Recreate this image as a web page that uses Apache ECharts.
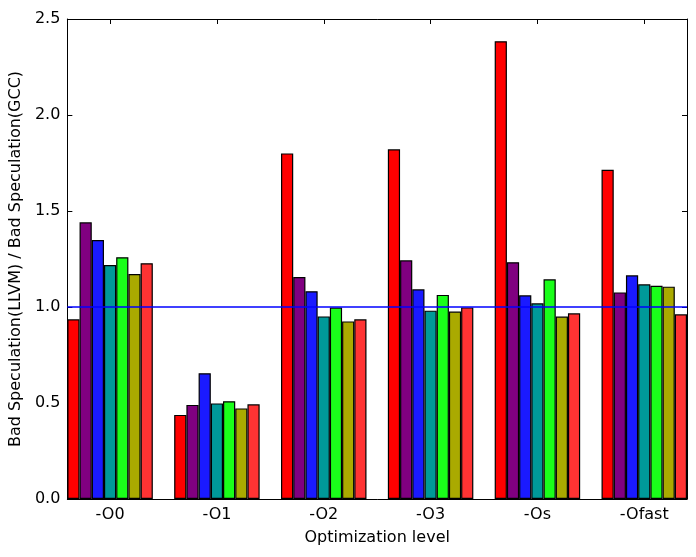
<!DOCTYPE html>
<html>
<head>
<meta charset="utf-8">
<script src="https://cdn.jsdelivr.net/npm/echarts@6/dist/echarts.min.js"></script>
<style>
  html, body { margin: 0; padding: 0; background: #fff; }
  #chart { width: 696px; height: 557px; }
</style>
</head>
<body>
<div id="chart"></div>
<script>
const categories = ["-O0", "-O1", "-O2", "-O3", "-Os", "-Ofast"];
const yTicks = [0, 0.5, 1.0, 1.5, 2.0, 2.5];

// one array per bar within a group
const redValues = [0.936, 0.438, 1.800, 1.821, 2.384, 1.715];
const purpleValues = [1.441, 0.490, 1.156, 1.243, 1.233, 1.076];
const blueValues = [1.349, 0.655, 1.082, 1.092, 1.061, 1.165];
const tealValues = [1.219, 0.498, 0.951, 0.981, 1.019, 1.118];
const greenValues = [1.259, 0.509, 0.997, 1.063, 1.144, 1.111];
const oliveValues = [1.172, 0.472, 0.925, 0.976, 0.950, 1.106];
const lightRedValues = [1.228, 0.493, 0.936, 0.998, 0.967, 0.962];
const baseline = 1.0;

const groups = [
  { values: redValues, color: "#ff0000" },
  { values: purpleValues, color: "#800080" },
  { values: blueValues, color: "#1a1aff" },
  { values: tealValues, color: "#009999" },
  { values: greenValues, color: "#1aff1a" },
  { values: oliveValues, color: "#aaaa00" },
  { values: lightRedValues, color: "#ff3333" },
];

const font = "DejaVu Sans";
const catIdx = categories.map((_, i) => i);
const xMin = -0.4;
const xMax = 5.4;

const chart = echarts.init(document.getElementById("chart"));

const frameX = (pos, showLabels) => ({
  type: "value",
  position: pos,
  min: xMin,
  max: xMax,
  axisLine: { show: true, onZero: false, lineStyle: { color: "#000", width: 1 } },
  axisTick: { show: true, inside: true, length: 5, customValues: catIdx, lineStyle: { color: "#000" } },
  axisLabel: {
    show: showLabels,
    customValues: catIdx,
    formatter: (v) => categories[Math.round(v)],
    color: "#000",
    fontFamily: font,
    fontSize: 16,
    margin: 8,
  },
  splitLine: { show: false },
});

const frameY = (pos, showLabels) => ({
  type: "value",
  position: pos,
  min: yTicks[0],
  max: yTicks[yTicks.length - 1],
  interval: 0.5,
  axisLine: { show: true, onZero: false, lineStyle: { color: "#000", width: 1 } },
  axisTick: { show: true, inside: true, length: 5, lineStyle: { color: "#000" } },
  axisLabel: {
    show: showLabels,
    formatter: (v) => v.toFixed(1),
    color: "#000",
    fontFamily: font,
    fontSize: 16,
    margin: 7,
  },
  splitLine: { show: false },
});

const xBottom = frameX("bottom", true);
xBottom.name = "Optimization level";
xBottom.nameLocation = "middle";
xBottom.nameGap = 31;
xBottom.nameTextStyle = { color: "#000", fontFamily: font, fontSize: 16 };

const yLeft = frameY("left", true);
yLeft.name = "Bad Speculation(LLVM) / Bad Speculation(GCC)";
yLeft.nameLocation = "middle";
yLeft.nameGap = 37;
yLeft.nameTextStyle = { color: "#000", fontFamily: font, fontSize: 16 };

const barSeries = groups.map((g) => ({
  type: "bar",
  xAxisIndex: 0,
  yAxisIndex: 0,
  barWidth: "11.43%",
  barGap: "0%",
  data: g.values.map((v, i) => [i, v]),
  itemStyle: { color: g.color, borderColor: "#000", borderWidth: 1.2 },
}));

// reference line at ratio 1.0
const baseSeries = {
  type: "line",
  xAxisIndex: 0,
  yAxisIndex: 0,
  silent: true,
  symbol: "none",
  z: 5,
  data: [[xMin, baseline], [xMax, baseline]],
  lineStyle: { color: "#0000ff", width: 1.5 },
};

const option = {
  animation: false,
  backgroundColor: "#fff",
  grid: { left: 67, right: 9, top: 19, bottom: 58, containLabel: false },
  xAxis: [xBottom, frameX("top", false)],
  yAxis: [yLeft, frameY("right", false)],
  series: [...barSeries, baseSeries],
};

chart.setOption(option);
</script>
</body>
</html>
